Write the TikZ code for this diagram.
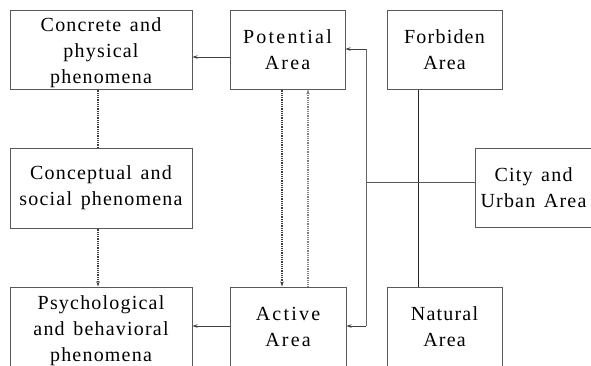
\documentclass[tikz,border=0pt]{standalone}
\usepackage{fontspec}
\setmainfont{Liberation Serif}[LetterSpace=6,WordSpace=1.4]
\newfontfamily\widefont{Liberation Serif}[LetterSpace=11]
\usetikzlibrary{arrows.meta}
\newcommand\threelines[3]{\raisebox{-3pt}[\height][\depth]{\begin{tabular}{@{}c@{}}#1\\#2\\#3\end{tabular}}}
\begin{document}
\begin{tikzpicture}[x=1pt,y=-1pt,
  box/.style={draw=black!65,line width=1pt,minimum height=79pt,align=center,inner sep=0pt,
    font=\fontsize{20}{26}\selectfont},
  tip/.style={-{Stealth[length=5pt,width=3.5pt]}},
  arr/.style={tip,line width=0.8pt,draw=black!75},
  dotline/.style={line width=1.8pt,draw=black!75,dash pattern=on 1pt off 0.8pt},
  thinline/.style={line width=0.6pt,draw=black!60}]
\useasboundingbox (0,0) rectangle (591,365);
\clip (0,0) rectangle (591,365);
% boxes
\node[box,minimum width=182pt] (conc) at (101,49.5) {\threelines{Concrete and}{physical}{phenomena}};
\node[box,minimum width=115pt,font=\widefont\fontsize{20}{26}\selectfont] (pot) at (287.5,49.5) {Potential\\Area};
\node[box,minimum width=115pt] (forb) at (444.5,49.5) {Forbiden\\Area};
\node[box,minimum width=182pt,minimum height=80pt] (concep) at (101,188) {Conceptual and\\social phenomena};
\node[box,minimum width=117pt] (city) at (533.5,187.5) {City and\\Urban Area};
\node[box,minimum width=182pt,minimum height=80pt] (psych) at (101,327) {\threelines{Psychological}{and behavioral}{phenomena}};
\node[box,minimum width=116pt,minimum height=80pt,font=\widefont\fontsize{20}{26}\selectfont] (act) at (288,327) {Active\\Area};
\node[box,minimum width=115pt,minimum height=80pt] (nat) at (444.5,327) {Natural\\Area};
% helper coordinates
\coordinate (ya) at (0,57);
\coordinate (yb) at (0,326);
\coordinate (xd) at (98,0);
\coordinate (xl) at (282,0);
\coordinate (xr) at (308,0);
\coordinate (xv) at (418,0);
\coordinate (j) at (366,182);
\coordinate (jt) at (366,49);
\coordinate (jb) at (366,326);
% connectors
\draw[arr] (pot.west |- ya) -- (conc.east |- ya);
\draw[dotline] (conc.south -| xd) -- (concep.north -| xd);
\draw[dotline,tip] (concep.south -| xd) -- (psych.north -| xd);
\draw[dotline,tip] (pot.south -| xl) -- (act.north -| xl);
\draw[dotline,tip,draw=black!50,line width=1.4pt] (act.north -| xr) -- (pot.south -| xr);
\draw[arr] (act.west |- yb) -- (psych.east |- yb);
\draw[line width=0.8pt,draw=black!85] (forb.south -| xv) -- (nat.north -| xv);
\draw[line width=1pt,draw=black!65] (city.west |- j) -- (j);
\draw[thinline] (jt) -- (jb);
\draw[arr] (jt) -- (pot.east |- jt);
\draw[arr] (jb) -- (act.east |- jb);
\end{tikzpicture}
\end{document}
